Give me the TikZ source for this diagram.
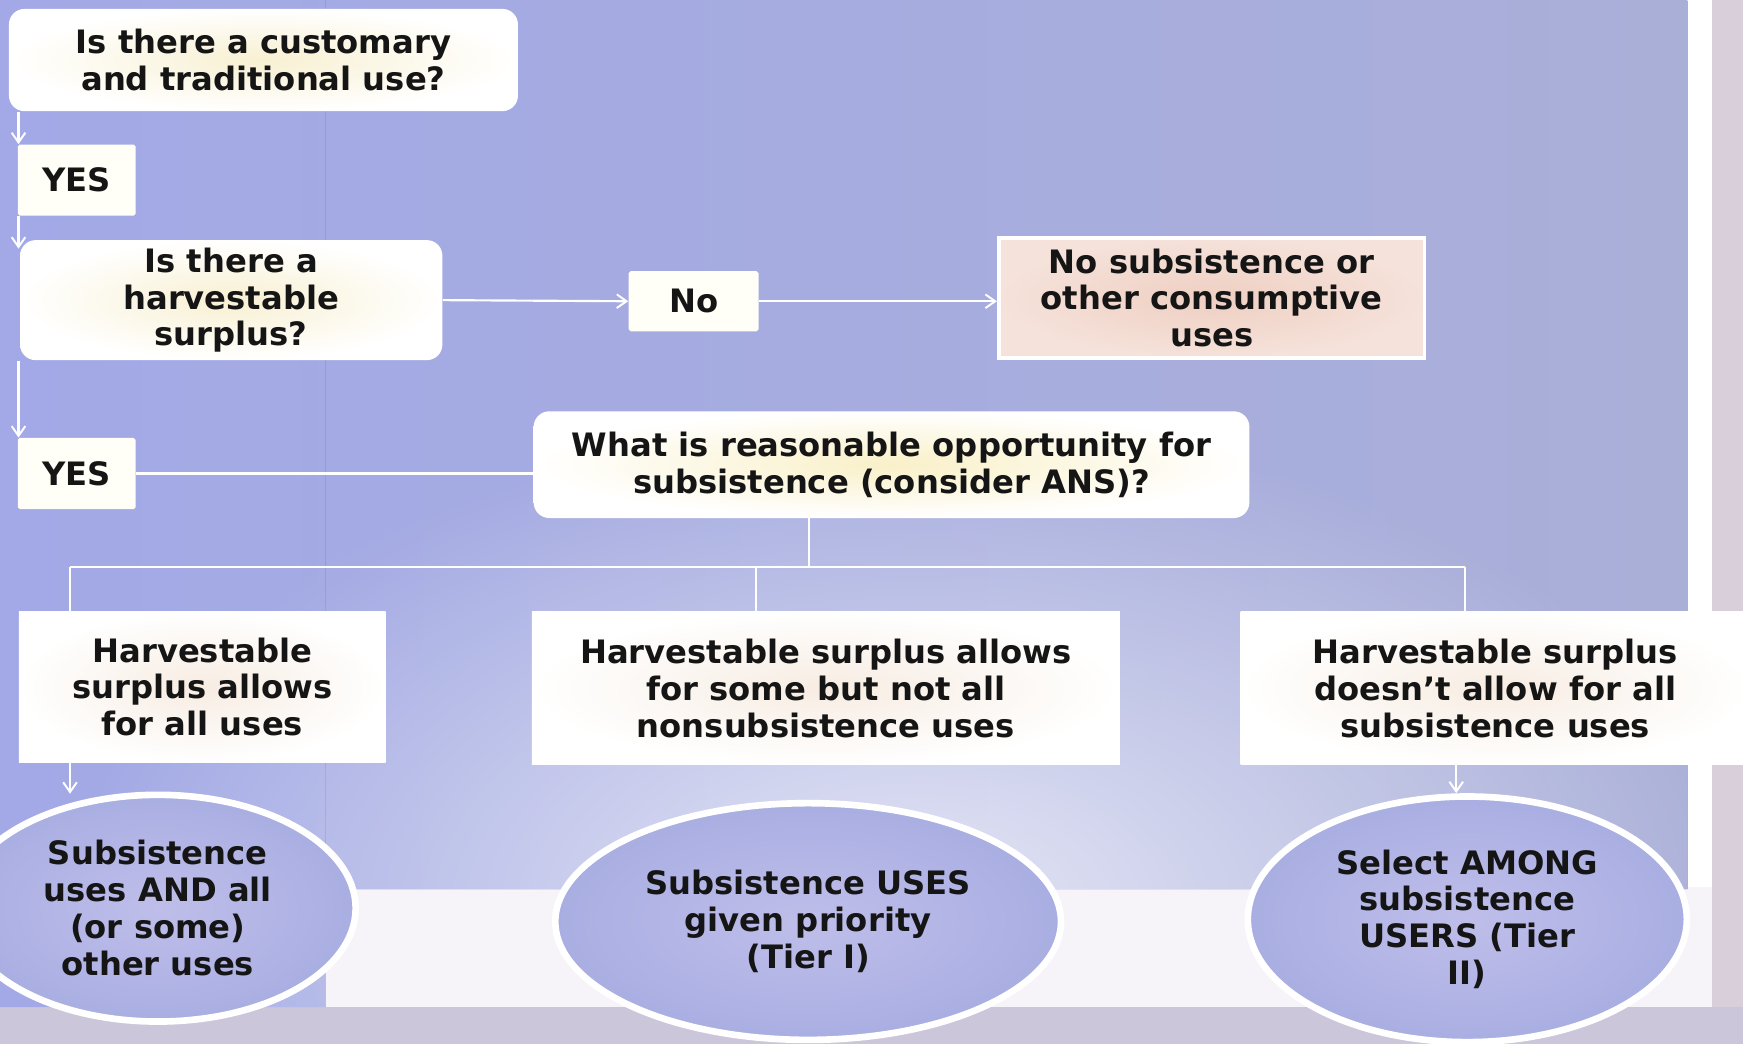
\documentclass[tikz,border=0pt]{standalone}
\usepackage{fontspec}
\setmainfont{DejaVu Sans}
\usetikzlibrary{shapes.geometric,arrows.meta,calc,fadings}
\definecolor{panelL}{HTML}{A2A9E6}
\definecolor{panelM}{HTML}{C0C3EE}
\definecolor{panelR}{HTML}{AAAFD8}
\definecolor{bottomgray}{HTML}{CCC6DA}
\definecolor{rightstrip}{HTML}{D8CFDA}
\definecolor{band}{HTML}{F6F4F9}
\definecolor{boxY}{HTML}{F8F0D2}
\definecolor{boxQ}{HTML}{F9F0C8}
\definecolor{boxP}{HTML}{F7ECE2}
\definecolor{peachIn}{HTML}{EFCFC2}
\definecolor{peachOut}{HTML}{F5E2DA}
\definecolor{ellIn}{HTML}{BFBEEA}
\definecolor{ellOut}{HTML}{A9AEE2}
\definecolor{ink}{HTML}{151515}
\tikzfading[name=blob, inner color=transparent!0, outer color=transparent!100]
\begin{document}
\begin{tikzpicture}[x=0.02cm,y=-0.02cm,
  font=\bfseries\fontsize{16.5}{18.9}\selectfont,
  box/.style={rectangle, inner sep=0pt, align=center, text=ink, inner color=boxY, outer color=white},
  rbox/.style={box, rounded corners=0.28cm},
  ansbox/.style={rectangle, inner sep=0pt, align=center, text=ink, fill=white!97!yellow, rounded corners=1pt},
  ell/.style={ellipse, inner sep=0pt, align=center, text=ink, inner color=ellIn, outer color=ellOut, draw=white, line width=3.4pt},
  conn/.style={draw=white, line width=1.1pt},
  arr/.style={conn, -{Straight Barb[length=5pt,width=7pt,line width=1pt]}}]
\useasboundingbox (0,0) rectangle (1568,939);
\clip (0,0) rectangle (1568,939);
% background
\fill[bottomgray] (0,0) rectangle (1568,939);
\fill[rightstrip] (1540,0) rectangle (1568,906);
\fill[white] (1518,0) rectangle (1540,906);
\fill[band] (293,798) rectangle (1540,906);
\begin{scope}
\clip (0,0) -- (1518,0) -- (1518,800) -- (293,800) -- (293,906) -- (0,906) -- cycle;
\shade[left color=panelL, middle color=panelM, right color=panelR] (0,0) rectangle (1518,906);
\fill[white, opacity=0.7, path fading=blob] (820,820) ellipse [x radius=760, y radius=440];
\end{scope}
\draw[black, opacity=0.08, line width=0.5pt] (293,0) -- (293,798);
% nodes
\node[rbox, minimum width=9.16cm, minimum height=1.84cm] (Q1) at (237,54) {Is there a customary\\and traditional use?};
\node[ansbox, minimum width=2.12cm, minimum height=1.28cm] (Y1) at (69,162) {YES};
\node[rbox, minimum width=7.6cm, minimum height=2.16cm] (Q2) at (208,270) {Is there a\\harvestable\\surplus?};
\node[ansbox, minimum width=2.34cm, minimum height=1.08cm] (NO) at (624,271) {No};
\node[rectangle, inner sep=0pt, align=center, text=ink, inner color=peachIn, outer color=peachOut, draw=white, line width=2pt, minimum width=7.66cm, minimum height=2.16cm] (NC) at (1090,268) {No subsistence or\\other consumptive\\uses};
\node[ansbox, minimum width=2.12cm, minimum height=1.28cm] (Y2) at (69,426) {YES};
\node[rbox, inner color=boxQ, minimum width=12.88cm, minimum height=1.92cm] (Q3) at (802,418) {What is reasonable opportunity for\\subsistence (consider ANS)?};
\node[box, inner color=boxP, minimum width=6.6cm, minimum height=2.72cm] (H1) at (182,618) {Harvestable\\surplus allows\\for all uses};
\node[box, inner color=boxP, minimum width=10.58cm, minimum height=2.76cm] (H2) at (743,619) {Harvestable surplus allows\\for some but not all\\nonsubsistence uses};
\node[box, inner color=boxP, minimum width=9.16cm, minimum height=2.76cm] (H3) at (1345,619) {Harvestable surplus\\doesn’t allow for all\\subsistence uses};
\node[ell, minimum width=7.12cm, minimum height=4.08cm] (E1) at (142,817) {Subsistence\\uses AND all\\(or some)\\other uses};
\node[ell, minimum width=9.1cm, minimum height=4.26cm] (E2) at (727,829) {Subsistence USES\\given priority\\(Tier I)};
\node[ell, minimum width=7.9cm, minimum height=4.42cm] (E3) at (1320,827) {Select AMONG\\subsistence\\USERS (Tier\\II)};
% connectors
\coordinate (bus) at (728,510);
\coordinate (bL) at (63,510);
\coordinate (bM) at (680,510);
\coordinate (bR) at (1318,510);
\draw[arr] ($(Q1.south -| Y1.west)+(1,0)$) -- ($(Y1.north west)+(1,0)$);
\draw[arr] ($(Y1.south west)+(1,0)$) -- ($(Y1.west |- Q2.north)+(1,8)$);
\draw[arr] ($(Q2.south -| Y2.west)+(1,0)$) -- ($(Y2.north west)+(1,0)$);
\draw[arr] (Q2.east) -- (NO.west);
\draw[arr] (NO.east) -- (NO.east -| NC.west);
\draw[conn] (Y2.east) -- (Y2.east -| Q3.west);
\draw[conn] (Q3.south -| bus) -- (bus);
\draw[conn] (bL) -- (bR);
\draw[conn] (bL) -- (bL |- H1.north);
\draw[conn] (bM) -- (bM |- H2.north);
\draw[conn] (bR) -- (bR |- H3.north);
\draw[arr] (bL |- H1.south) -- ($(bL |- E1.north)+(0,2)$);
\draw[arr] ($(H3.south -| E3.north)+(-10,0)$) -- ($(E3.north)+(-10,0)$);
\end{tikzpicture}
\end{document}
